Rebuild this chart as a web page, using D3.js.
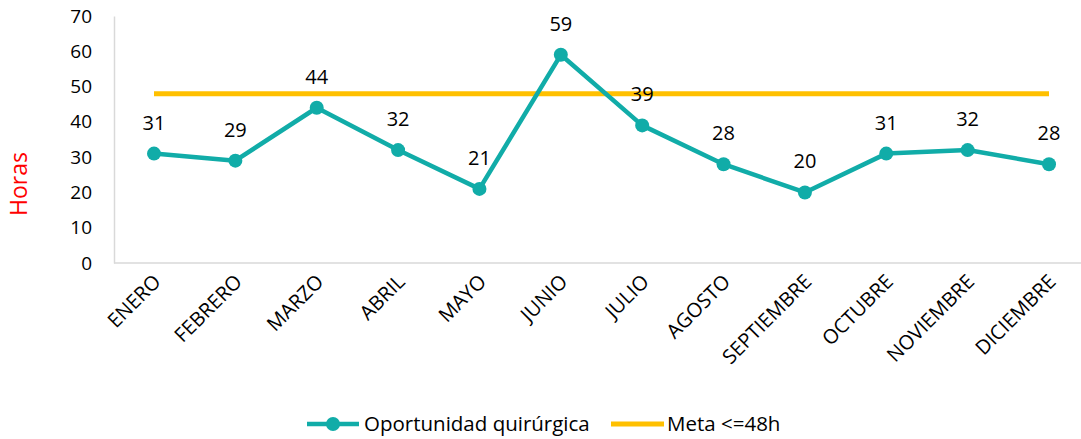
<!DOCTYPE html>
<html>
<head>
<meta charset="utf-8">
<script src="https://cdn.jsdelivr.net/npm/d3@7"></script>
<style>
  body { margin: 0; background: #fff; }
  text { font-family: "Open Sans", "Noto Sans", sans-serif; fill: #000; }
</style>
</head>
<body>
<div class="chart"></div>
<script>
var months = ["ENERO", "FEBRERO", "MARZO", "ABRIL", "MAYO", "JUNIO", "JULIO",
    "AGOSTO", "SEPTIEMBRE", "OCTUBRE", "NOVIEMBRE", "DICIEMBRE"];
var hours = [31, 29, 44, 32, 21, 59, 39, 28, 20, 31, 32, 28];
var goal = [48, 48, 48, 48, 48, 48, 48, 48, 48, 48, 48, 48];
var yTicks = [0, 10, 20, 30, 40, 50, 60, 70];

var svgWidth = 1081;
var svgHeight = 439;

var teal = "#11ACA8";
var gold = "#FFC000";

var svg = d3.select(".chart")
    .append("svg")
    .attr("width", svgWidth)
    .attr("height", svgHeight);

var x = d3.scalePoint()
    .domain(months)
    .range([154, 1049]);

var y = d3.scaleLinear()
    .domain([0, 70])
    .range([263, 16]);

// y axis
var leftAxis = d3.axisLeft(y).tickValues(yTicks).tickSize(0).tickPadding(22);
var gy = svg.append("g")
    .attr("transform", "translate(114,0)")
    .call(leftAxis);
gy.select(".domain").attr("stroke", "#d9d9d9").attr("stroke-width", 1.5);
gy.selectAll("text").attr("font-size", "19px").attr("font-family", "Open Sans");

// x axis line
svg.append("line")
    .attr("x1", 114).attr("x2", 1081)
    .attr("y1", y(0)).attr("y2", y(0))
    .attr("stroke", "#d9d9d9").attr("stroke-width", 1.5);

svg.selectAll(".xlab")
    .data(months)
    .enter()
    .append("text")
    .attr("class", "xlab")
    .attr("transform", d => `translate(${x(d) + 8}, 283) rotate(-45)`)
    .attr("text-anchor", "end")
    .attr("font-size", "20px")
    .text(d => d);

// y title
svg.append("text")
    .attr("transform", "translate(27, 184) rotate(-90)")
    .attr("text-anchor", "middle")
    .attr("font-size", "23px")
    .style("fill", "#FF0000")
    .text("Horas");

// goal line
var line = d3.line()
    .x((d, i) => x(months[i]))
    .y(d => y(d));

svg.append("path")
    .datum(goal)
    .attr("d", line)
    .attr("fill", "none")
    .attr("stroke", gold)
    .attr("stroke-width", 5);

// series
svg.append("path")
    .datum(hours)
    .attr("d", line)
    .attr("fill", "none")
    .attr("stroke", teal)
    .attr("stroke-width", 4.5)
    .attr("stroke-linejoin", "round");

svg.selectAll(".dot")
    .data(hours)
    .enter()
    .append("circle")
    .attr("cx", (d, i) => x(months[i]))
    .attr("cy", d => y(d))
    .attr("r", 7)
    .attr("fill", teal);

svg.selectAll(".val")
    .data(hours)
    .enter()
    .append("text")
    .attr("x", (d, i) => x(months[i]))
    .attr("y", d => y(d) - 24)
    .attr("text-anchor", "middle")
    .attr("font-size", "20px")
    .text(d => d);

// legend
var leg = svg.append("g");
leg.append("line")
    .attr("x1", 307).attr("x2", 359).attr("y1", 424).attr("y2", 424)
    .attr("stroke", teal).attr("stroke-width", 4.5);
leg.append("circle")
    .attr("cx", 333).attr("cy", 424).attr("r", 7).attr("fill", teal);
leg.append("text")
    .attr("x", 364).attr("y", 431)
    .attr("font-size", "20.5px")
    .text("Oportunidad quirúrgica");
leg.append("line")
    .attr("x1", 611).attr("x2", 664).attr("y1", 424).attr("y2", 424)
    .attr("stroke", gold).attr("stroke-width", 5);
leg.append("text")
    .attr("x", 667).attr("y", 431)
    .attr("font-size", "20.5px")
    .text("Meta <=48h");
</script>
</body>
</html>
